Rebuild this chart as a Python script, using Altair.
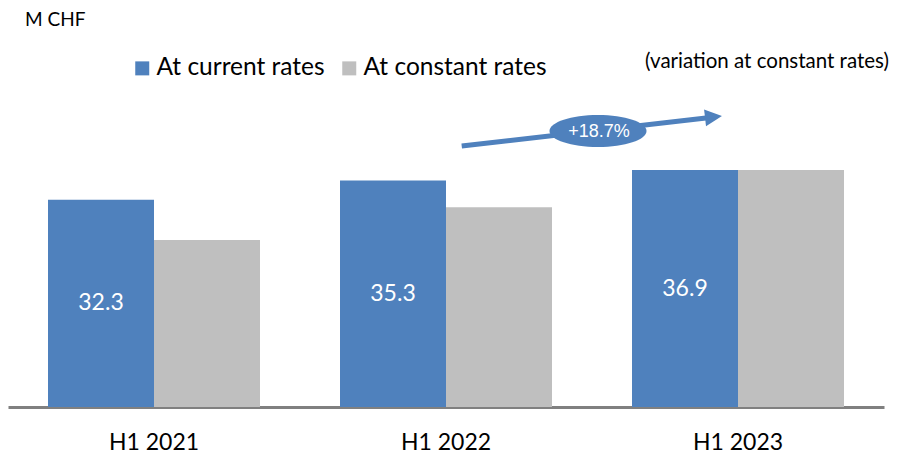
import altair as alt
import pandas as pd

periods = ["H1 2021", "H1 2022", "H1 2023"]
series = ["At current rates", "At constant rates"]
current = [32.3, 35.3, 36.9]
constant = [26.0, 31.1, 36.9]
colors = ["#4F81BD", "#BFBFBF"]
variation_label = "+18.7%"
unit_label = "M CHF"
note_label = "(variation at constant rates)"

rows = []
for i, p in enumerate(periods):
    rows.append({"period": p, "series": series[0], "value": current[i]})
    rows.append({"period": p, "series": series[1], "value": constant[i]})
df = pd.DataFrame(rows)

YMAX = 62.15
xscale = alt.Scale(domain=periods, paddingInner=0.274, paddingOuter=0.137)
yscale = alt.Scale(domain=[0, YMAX], nice=False, zero=True)
xoff = alt.XOffset("series:N", sort=series,
                   scale=alt.Scale(domain=series, paddingInner=0, paddingOuter=0))

xenc = alt.X("period:N", scale=xscale, sort=periods,
             axis=alt.Axis(title=None, labelAngle=0, ticks=False, grid=False,
                           domainColor="#808080", domainWidth=3,
                           labelFont="Lato", labelFontSize=23, labelColor="black",
                           labelPadding=24))

bars = alt.Chart(df).mark_bar().encode(
    x=xenc,
    xOffset=xoff,
    y=alt.Y("value:Q", scale=yscale, axis=None),
    color=alt.Color("series:N", sort=series,
                    scale=alt.Scale(domain=series, range=colors),
                    legend=alt.Legend(orient="none", legendX=122, legendY=48,
                                      direction="horizontal", title=None,
                                      symbolType="square", symbolSize=196,
                                      symbolStrokeWidth=0, symbolOpacity=1,
                                      labelFont="Lato", labelFontSize=24.5,
                                      labelColor="black", labelOffset=2,
                                      columnPadding=12, padding=0, labelLimit=400)),
)

labels = alt.Chart(df).transform_filter(
    alt.datum.series == series[0]
).transform_calculate(
    mid="datum.value / 2",
    txt="format(datum.value, '.1f')"
).mark_text(color="white", font="Lato", fontSize=23, baseline="middle").encode(
    x=xenc,
    xOffset=xoff,
    y=alt.Y("mid:Q", scale=yscale, axis=None),
    text="txt:N",
)

one = pd.DataFrame({"k": [0]})

arrow_line = alt.Chart(one).mark_rule(color="#4F81BD", strokeWidth=5).encode(
    x=alt.value(453.7), y=alt.value(138), x2=alt.value(698), y2=alt.value(110)
)
arrow_head = alt.Chart(one).mark_point(
    shape="M-1,-1L1,0L-1,1Z", filled=True, color="#4F81BD", opacity=1,
    size=289, angle=353.4, strokeWidth=0
).encode(x=alt.value(705.5), y=alt.value(108.9))

ellipse = alt.Chart(one).mark_point(
    shape="M-1,0A1,0.33,0,1,1,1,0A1,0.33,0,1,1,-1,0Z", filled=True,
    color="#4F81BD", opacity=1, size=9409, strokeWidth=0
).encode(x=alt.value(590), y=alt.value(123))

var_text = alt.Chart(one).mark_text(
    text=variation_label, color="white", font="Liberation Sans", fontSize=18,
    baseline="middle", align="center"
).encode(x=alt.value(591), y=alt.value(123.5))

unit_text = alt.Chart(one).mark_text(
    text=unit_label, color="black", font="Lato", fontSize=19,
    align="left", baseline="alphabetic"
).encode(x=alt.value(17), y=alt.value(17.5))

note_text = alt.Chart(one).mark_text(
    text=note_label, color="black", font="Lato", fontSize=20.5,
    align="right", baseline="alphabetic"
).encode(x=alt.value(881), y=alt.value(60))

chart = alt.layer(
    bars, labels, arrow_line, arrow_head, ellipse, var_text, unit_text, note_text
).properties(
    width=876, height=399, padding=0
).configure_view(stroke=None)

chart.save("out.html", embed_options={"renderer": "svg", "actions": False})
